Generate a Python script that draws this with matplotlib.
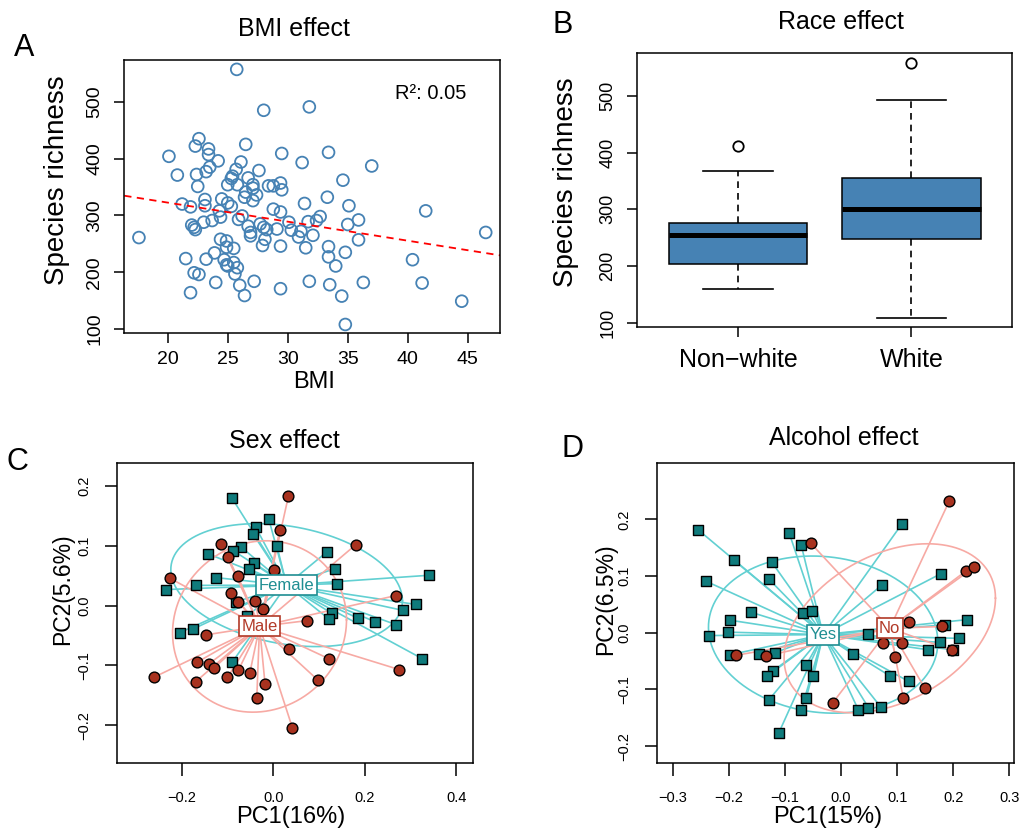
import numpy as np
import matplotlib
matplotlib.use("Agg")
import matplotlib.pyplot as plt

plt.rcParams['font.family'] = ['Liberation Sans', 'DejaVu Sans']

# ---- panel A: BMI vs species richness
bmi = [25.75, 28.0, 31.8, 22.6, 22.3, 23.4, 23.4, 24.2, 20.1, 26.5,
       29.5, 33.4, 31.2, 26.1, 20.8, 22.4, 23.2, 23.5, 25.7, 27.6,
       37.0, 34.6, 22.5, 25.0, 25.3, 25.4, 25.8, 26.7, 27.1, 26.5,
       27.1, 27.4, 28.4, 28.8, 29.4, 29.5, 26.4, 27.1, 33.3, 31.4,
       35.1, 41.5, 46.5, 17.6, 21.2, 21.9, 23.1, 23.1, 24.5, 25.0,
       25.3, 24.3, 24.4, 26.2, 25.9, 23.7, 23.0, 22.0, 22.2, 22.3,
       26.7, 26.9, 26.9, 27.7, 28.0, 28.25, 28.1, 27.9, 28.8, 29.4,
       29.1, 30.1, 30.3, 30.9, 31.1, 31.7, 32.4, 32.7, 32.1, 35.0,
       35.9, 35.9, 24.4, 24.9, 24.9, 25.5, 29.4, 31.5, 33.4, 33.4,
       34.8, 34.0, 40.4, 21.5, 23.2, 23.9, 24.7, 24.9, 25.0, 25.5,
       25.8, 25.6, 22.2, 22.6, 24.0, 27.2, 26.0, 26.4, 21.9, 29.4,
       31.8, 33.5, 34.5, 36.3, 41.2, 44.5, 34.8]
richness = [557, 485, 491, 435, 422, 417, 407, 396, 404, 425,
            409, 411, 393, 394, 371, 372, 377, 385, 381, 379,
            387, 362, 351, 354, 365, 369, 354, 366, 354, 341,
            348, 336, 352, 352, 357, 345, 332, 326, 332, 321,
            317, 308, 270, 261, 320, 315, 328, 317, 329, 322,
            316, 308, 297, 299, 293, 291, 288, 283, 279, 275,
            281, 270, 264, 285, 279, 275, 258, 247, 311, 306,
            276, 288, 274, 262, 272, 289, 291, 298, 265, 284,
            292, 257, 258, 255, 244, 242, 246, 243, 245, 227,
            235, 211, 222, 224, 223, 234, 222, 213, 211, 217,
            208, 197, 199, 196, 182, 184, 177, 159, 164, 171,
            184, 178, 158, 182, 181, 149, 108]
r2_label = "R\u00b2: 0.05"

# ---- panel B: race boxplot
race_names = ["Non\u2212white", "White"]
race_whislo = [160, 109]
race_q1 = [203, 248]
race_med = [255, 300]
race_q3 = [275, 356]
race_whishi = [367, 493]
race_fliers = [[412], [558]]

# ---- panel C: sex PCoA
female_pc1 = [-0.090, -0.010, -0.038, -0.044, 0.008, -0.070, -0.087, -0.143, -0.041, -0.052,
              -0.125, -0.169, -0.235, 0.117, 0.134, 0.140, 0.341, 0.312, 0.284, 0.269,
              0.223, 0.185, 0.128, 0.121, 0.326, -0.204, -0.175, -0.090, -0.057, -0.082]
female_pc2 = [0.180, 0.146, 0.131, 0.120, 0.100, 0.098, 0.092, 0.087, 0.071, 0.061,
              0.047, 0.034, 0.027, 0.090, 0.062, 0.037, 0.051, 0.002, -0.008, -0.032,
              -0.027, -0.021, -0.013, -0.022, -0.089, -0.045, -0.039, -0.095, -0.017, 0.006]
male_pc1 = [0.033, 0.014, -0.114, -0.098, 0.180, 0.002, -0.078, -0.226, -0.092, -0.076,
            -0.039, -0.023, 0.074, 0.268, -0.148, 0.034, 0.122, 0.275, -0.167, -0.140,
            -0.129, -0.076, -0.051, -0.261, -0.169, -0.100, -0.018, 0.098, -0.036, 0.042]
male_pc2 = [0.183, 0.126, 0.103, 0.081, 0.102, 0.060, 0.050, 0.046, 0.022, 0.006,
            0.008, -0.006, -0.025, 0.017, -0.049, -0.073, -0.089, -0.107, -0.095, -0.097,
            -0.104, -0.108, -0.112, -0.120, -0.127, -0.120, -0.131, -0.125, -0.155, -0.205]
# ellipse shape (var x, cov xy, var y)
female_ell = [0.0640, -0.0066, 0.0106]
male_ell = [0.0361, 0.0021, 0.0206]

# ---- panel D: alcohol PCoA
yes_pc1 = [-0.254, -0.191, -0.241, -0.092, -0.071, -0.123, -0.128, 0.108, 0.178, 0.074,
           -0.160, -0.197, -0.202, -0.236, -0.068, -0.051, -0.198, -0.147, -0.117, -0.121,
           -0.132, -0.062, -0.049, -0.129, -0.062, -0.071, -0.111, 0.049, 0.022, 0.087,
           0.121, 0.031, 0.049, 0.071, 0.185, 0.224, 0.177, 0.211, 0.155, 0.200]
yes_pc2 = [0.181, 0.128, 0.091, 0.175, 0.155, 0.124, 0.094, 0.191, 0.104, 0.085,
           0.036, 0.022, 0.001, -0.005, 0.034, 0.038, -0.039, -0.037, -0.035, -0.067,
           -0.077, -0.057, -0.076, -0.119, -0.115, -0.137, -0.177, -0.002, -0.038, -0.076,
           -0.086, -0.136, -0.132, -0.131, 0.014, 0.023, -0.017, -0.010, -0.030, -0.030]
no_pc1 = [0.193, 0.223, 0.238, -0.054, 0.122, 0.181, 0.075, 0.108, 0.097, -0.188,
          -0.133, -0.015, 0.111, 0.149, 0.198]
no_pc2 = [0.232, 0.109, 0.116, 0.158, 0.019, 0.011, -0.018, -0.019, -0.042, -0.040,
          -0.041, -0.124, -0.115, -0.097, -0.031]
yes_ell = [0.0418, -0.0027, 0.0192]
no_ell = [0.0355, 0.0100, 0.0222]

TEAL_PT = "#0f7b7c"
RED_PT = "#a8321f"
TEAL_LN = "#62d0d2"
RED_LN = "#f7aaa4"
TEAL_TX = "#1f8e92"
RED_TX = "#b23a28"

W, H = 1023, 831
fig = plt.figure(figsize=(W / 100, H / 100), dpi=100)


def px_axes(x0, y0, x1, y1):
    return fig.add_axes([x0 / W, 1 - y1 / H, (x1 - x0) / W, (y1 - y0) / H])


def ftext(x, y, s, **kw):
    fig.text(x / W, 1 - y / H, s, ha='center', va='center', **kw)


def style(ax, tl=7, lsize=14, xpad=6, ypad=6):
    for sp in ax.spines.values():
        sp.set_linewidth(1.1)
    ax.tick_params(direction='out', length=tl, width=1.1, labelsize=lsize)
    ax.tick_params(axis='x', pad=xpad)
    ax.tick_params(axis='y', pad=ypad, labelrotation=90)
    for lab in ax.get_yticklabels():
        lab.set_va('center')


def fmt(v):
    return f"{v:.1f}".replace("-", "\u2212")


# ---------- A
axA = px_axes(124.3, 60, 500, 333.3)
axA.scatter(bmi, richness, s=72, facecolors='none', edgecolors='#4682b4', linewidths=1.3)
slope, icept = np.polyfit(bmi, richness, 1)
axA.axline((20, icept + slope * 20), slope=slope, color='red', lw=1.3, ls=(0, (4, 3)))
axA.set_xlim(16.38, 47.69)
axA.set_ylim(92.5, 573.5)
axA.set_xticks([20, 25, 30, 35, 40, 45])
axA.set_yticks([100, 200, 300, 400, 500])
style(axA, lsize=14, xpad=6, ypad=8)
axA.text(44.9, 515, r2_label, ha='right', va='center', fontsize=14.5)

# ---------- B
axB = px_axes(637.3, 53.3, 1012, 326.7)
stats = []
for i, nm in enumerate(race_names):
    stats.append(dict(label=nm, whislo=race_whislo[i], q1=race_q1[i], med=race_med[i],
                      q3=race_q3[i], whishi=race_whishi[i], fliers=race_fliers[i]))
axB.bxp(stats, positions=[1, 2], widths=0.8, capwidths=0.4, patch_artist=True,
        boxprops=dict(facecolor='#4682b4', edgecolor='black', lw=1.1),
        medianprops=dict(color='black', lw=3.6, solid_capstyle='butt'),
        whiskerprops=dict(color='black', lw=1.2, ls=(0, (4, 3))),
        capprops=dict(color='black', lw=1.2),
        flierprops=dict(marker='o', mfc='none', mec='black', ms=7.5, mew=1.3))
axB.set_xlim(0.42, 2.58)
axB.set_ylim(93, 575)
axB.set_yticks([100, 200, 300, 400, 500])
style(axB, lsize=13, ypad=8)
axB.tick_params(axis='x', labelsize=18, pad=8)


# ---------- C, D
def spider(ax, groups):
    t = np.linspace(0, 2 * np.pi, 240)
    for xs, ys, ell, ln, pt, mk, ms in groups:
        cx, cy = np.mean(xs), np.mean(ys)
        for x, y in zip(xs, ys):
            ax.plot([cx, x], [cy, y], color=ln, lw=1.2, zorder=1)
        m = np.array([[ell[0], ell[1]], [ell[1], ell[2]]])
        e = np.linalg.cholesky(m) @ np.vstack([np.cos(t), np.sin(t)])
        ax.plot(cx + e[0], cy + e[1], color=ln, lw=1.2, zorder=1)
    for xs, ys, ell, ln, pt, mk, ms in groups:
        ax.scatter(xs, ys, marker=mk, s=ms, facecolor=pt, edgecolor='black', linewidths=1.0, zorder=3)


def centroid_label(ax, xs, ys, txt, col):
    ax.text(np.mean(xs), np.mean(ys), txt, ha='center', va='center', fontsize=12, color=col,
            zorder=5, bbox=dict(boxstyle='square,pad=0.15', fc='white', ec=col, lw=1.2))


axC = px_axes(116.7, 463.3, 473.3, 763.3)
spider(axC, [(female_pc1, female_pc2, female_ell, TEAL_LN, TEAL_PT, 's', 50),
             (male_pc1, male_pc2, male_ell, RED_LN, RED_PT, 'o', 60)])
centroid_label(axC, female_pc1, female_pc2, "Female", TEAL_TX)
centroid_label(axC, male_pc1, male_pc2, "Male", RED_TX)
axC.set_xlim(-0.342, 0.437)
axC.set_ylim(-0.264, 0.2385)
cx_ticks = [-0.2, 0.0, 0.2, 0.4]
cy_ticks = [-0.2, -0.1, 0.0, 0.1, 0.2]
axC.set_xticks(cx_ticks, [fmt(v) for v in cx_ticks])
axC.set_yticks(cy_ticks, [fmt(v) for v in cy_ticks])
style(axC, tl=9, lsize=10.5, xpad=11, ypad=9)

axD = px_axes(656.7, 463.3, 1014.3, 763.3)
spider(axD, [(yes_pc1, yes_pc2, yes_ell, TEAL_LN, TEAL_PT, 's', 50),
             (no_pc1, no_pc2, no_ell, RED_LN, RED_PT, 'o', 60)])
centroid_label(axD, yes_pc1, yes_pc2, "Yes", TEAL_TX)
centroid_label(axD, no_pc1, no_pc2, "No", RED_TX)
axD.set_xlim(-0.3285, 0.309)
axD.set_ylim(-0.2303, 0.2988)
dx_ticks = [-0.3, -0.2, -0.1, 0.0, 0.1, 0.2, 0.3]
dy_ticks = [-0.2, -0.1, 0.0, 0.1, 0.2]
axD.set_xticks(dx_ticks, [fmt(v) for v in dx_ticks])
axD.set_yticks(dy_ticks, [fmt(v) for v in dy_ticks])
style(axD, tl=9, lsize=10.5, xpad=11, ypad=9)

# ---------- titles, labels
ftext(24.5, 48, "A", fontsize=22)
ftext(563, 25, "B", fontsize=22)
ftext(17.5, 462, "C", fontsize=22)
ftext(572.5, 449, "D", fontsize=22)

ftext(294, 28.5, "BMI effect", fontsize=18)
ftext(841, 22, "Race effect", fontsize=18)
ftext(284, 441, "Sex effect", fontsize=18)
ftext(843.5, 438, "Alcohol effect", fontsize=18)

ftext(314, 382, "BMI", fontsize=17)
ftext(57, 180, "Species richness", fontsize=20, rotation=90)
ftext(566, 182, "Species richness", fontsize=20, rotation=90)
ftext(290.5, 817, "PC1(16%)", fontsize=17)
ftext(828, 817, "PC1(15%)", fontsize=17)
ftext(62.5, 589.5, "PC2(5.6%)", fontsize=16.5, rotation=90)
ftext(605.5, 599.5, "PC2(6.5%)", fontsize=16.5, rotation=90)

fig.savefig("out.png", dpi=100)
